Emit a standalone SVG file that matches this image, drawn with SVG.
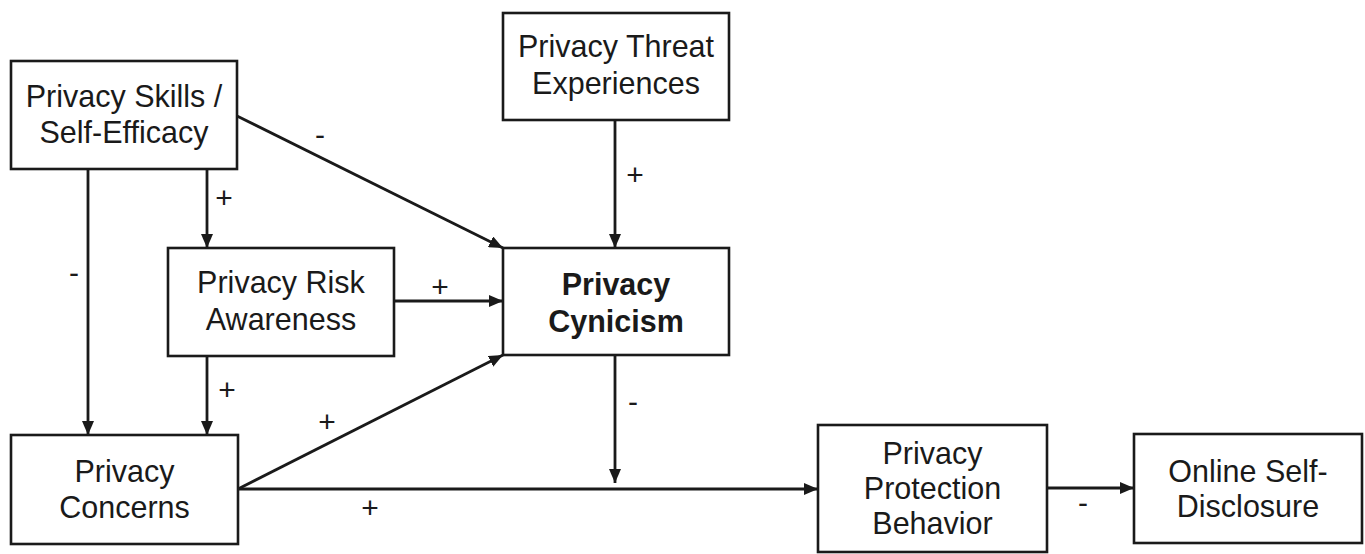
<svg xmlns="http://www.w3.org/2000/svg" width="1365" height="554" viewBox="0 0 1365 554">
  <style>
    .box { fill: #ffffff; stroke: #1a1a1a; stroke-width: 2.6; }
    .lbl { font-family: "Liberation Sans", Arial, sans-serif; font-size: 30.5px; fill: #1a1a1a; text-anchor: middle; }
    .bold { font-weight: bold; }
    .edge { stroke: #1a1a1a; stroke-width: 2.8; fill: none; marker-end: url(#arrow); }
    .sign { font-family: "Liberation Sans", Arial, sans-serif; font-size: 30px; fill: #1a1a1a; text-anchor: middle; }
  </style>
  <defs>
    <marker id="arrow" viewBox="0 0 14 12" refX="14" refY="6" markerWidth="14" markerHeight="12" markerUnits="userSpaceOnUse" orient="auto">
      <path d="M0,0 L14,6 L0,12 Z" fill="#1a1a1a"/>
    </marker>
  </defs>

  <!-- connectors with their sign labels -->
  <g id="connectors">
    <line class="edge" x1="88" y1="169" x2="88" y2="435"/>
    <text class="sign" x="74" y="283">-</text>
    <line class="edge" x1="207" y1="169" x2="207" y2="248"/>
    <text class="sign" x="224" y="207.5">+</text>
    <line class="edge" x1="237" y1="116" x2="503" y2="248"/>
    <text class="sign" x="320" y="145">-</text>
    <line class="edge" x1="615" y1="120" x2="615" y2="248"/>
    <text class="sign" x="635" y="184.5">+</text>
    <line class="edge" x1="394" y1="301" x2="503" y2="301"/>
    <text class="sign" x="440" y="296.5">+</text>
    <line class="edge" x1="207" y1="356" x2="207" y2="435"/>
    <text class="sign" x="227" y="399.5">+</text>
    <line class="edge" x1="238" y1="489" x2="503" y2="355"/>
    <text class="sign" x="327" y="431.5">+</text>
    <line class="edge" x1="238" y1="489" x2="818" y2="489"/>
    <text class="sign" x="370" y="517.5">+</text>
    <line class="edge" x1="615" y1="355" x2="615" y2="483"/>
    <text class="sign" x="633" y="412">-</text>
    <line class="edge" x1="1047" y1="488" x2="1134" y2="488"/>
    <text class="sign" x="1083" y="513">-</text>
  </g>

  <g id="skills">
    <rect class="box" x="11" y="61" width="226" height="108"/>
    <text class="lbl" x="124" y="107">Privacy Skills /</text>
    <text class="lbl" x="124" y="143">Self-Efficacy</text>
  </g>

  <g id="threat">
    <rect class="box" x="503" y="13" width="226" height="107"/>
    <text class="lbl" x="616" y="57">Privacy Threat</text>
    <text class="lbl" x="616" y="94">Experiences</text>
  </g>

  <g id="risk">
    <rect class="box" x="168" y="248" width="226" height="108"/>
    <text class="lbl" x="281" y="293">Privacy Risk</text>
    <text class="lbl" x="281" y="330">Awareness</text>
  </g>

  <g id="cynicism">
    <rect class="box" x="503" y="248" width="226" height="107"/>
    <text class="lbl bold" x="616" y="295">Privacy</text>
    <text class="lbl bold" x="616" y="332">Cynicism</text>
  </g>

  <g id="concerns">
    <rect class="box" x="11" y="435" width="227" height="109"/>
    <text class="lbl" x="124.5" y="482">Privacy</text>
    <text class="lbl" x="124.5" y="518">Concerns</text>
  </g>

  <g id="protection">
    <rect class="box" x="818" y="425" width="229" height="127"/>
    <text class="lbl" x="932.5" y="464">Privacy</text>
    <text class="lbl" x="932.5" y="499">Protection</text>
    <text class="lbl" x="932.5" y="534">Behavior</text>
  </g>

  <g id="disclosure">
    <rect class="box" x="1134" y="434" width="228" height="109"/>
    <text class="lbl" x="1248" y="482">Online Self-</text>
    <text class="lbl" x="1248" y="517">Disclosure</text>
  </g>
</svg>
